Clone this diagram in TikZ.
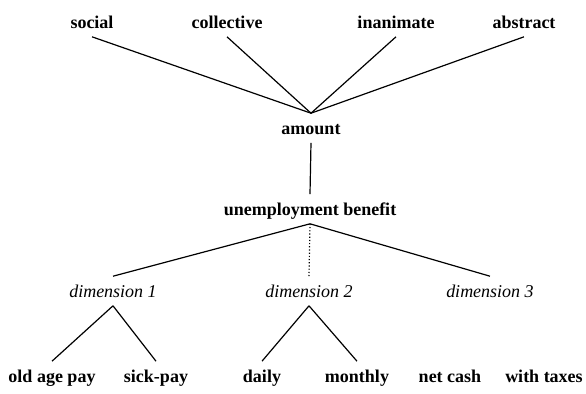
\documentclass[tikz,border=0pt]{standalone}
\usepackage{fontspec}
\newfontfamily\timesfont{Liberation Serif}
\usetikzlibrary{positioning}

\begin{document}
\begin{tikzpicture}[x=0.5pt,y=-0.5pt,
    word/.style={anchor=base, font=\timesfont\fontsize{9}{10}\selectfont\bfseries,
                 text height=8pt, text depth=2pt, inner sep=2.2pt},
    dim/.style={word, font=\timesfont\fontsize{9}{10}\selectfont\itshape},
    link/.style={line width=0.6pt}]
\useasboundingbox (0,0) rectangle (586,393);

% Top features
\node[word] (social) at (92,28) {social};
\node[word] (collective) at (227,28) {collective};
\node[word] (inanimate) at (396,28) {inanimate};
\node[word] (abstract) at (524,28) {abstract};

% Middle of the tree
\node[word] (amount) at (311,134) {amount};
\node[word] (benefit) at (310,215) {unemployment benefit};

% Dimensions
\node[dim] (dim1) at (113,297) {dimension 1};
\node[dim] (dim2) at (309,297) {dimension 2};
\node[dim] (dim3) at (490,297) {dimension 3};

% Bottom values
\node[word] (oldage) at (52,382) {old age pay};
\node[word] (sick) at (156,382) {sick-pay};
\node[word] (daily) at (262,382) {daily};
\node[word] (monthly) at (357,382) {monthly};
\node[word] (netcash) at (450,382) {net cash};
\node[word] (taxes) at (544,382) {with taxes};

% Connect the features to amount
\foreach \n in {social,collective,inanimate,abstract}
    \draw[link] (\n.south) -- (amount.north);

\draw[link] (amount.south) -- (benefit.north);

% Branch into the dimensions
\draw[link] (benefit.south) -- (dim1.north);
\draw[link, densely dotted] (benefit.south) -- (dim2.north);
\draw[link] (benefit.south) -- (dim3.north);

\draw[link] (dim1.south) -- (oldage.north);
\draw[link] (dim1.south) -- (sick.north);
\draw[link] (dim2.south) -- (daily.north);
\draw[link] (dim2.south) -- (monthly.north);

\end{tikzpicture}
\end{document}
